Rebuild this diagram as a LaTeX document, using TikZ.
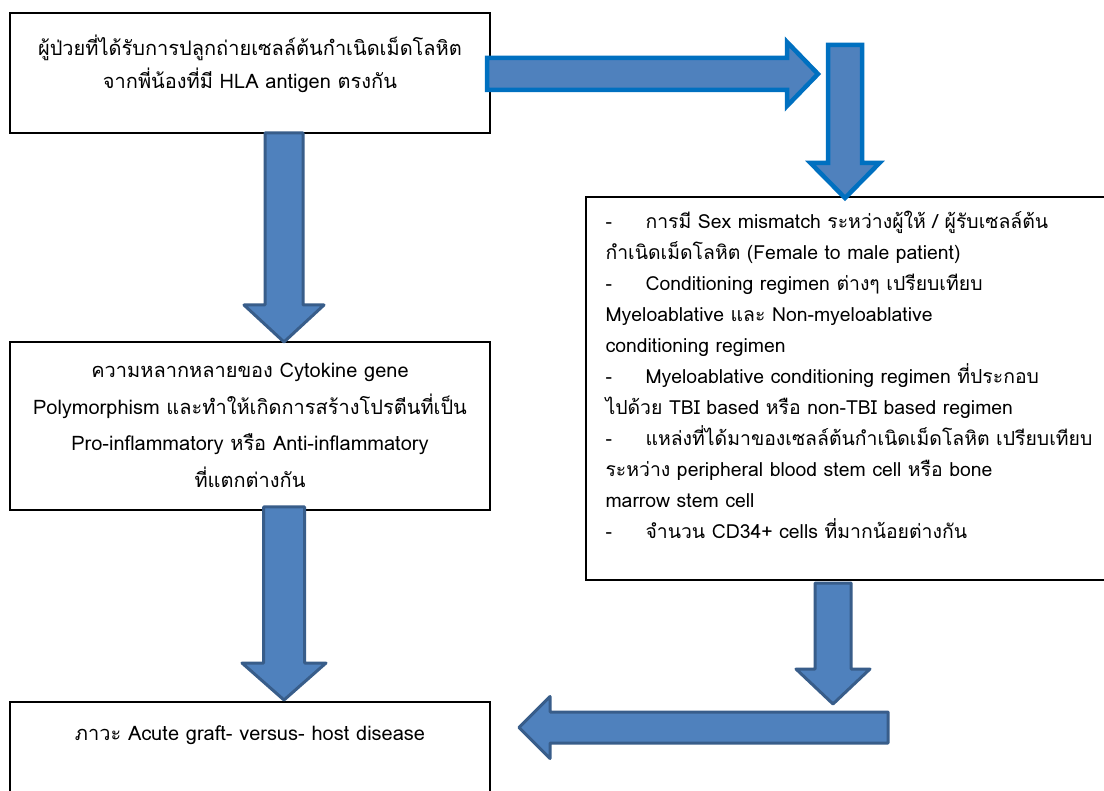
\documentclass[tikz,border=0pt]{standalone}
\usepackage{fontspec}
\setmainfont[Script=Thai]{Loma}
\usetikzlibrary{positioning,calc}

\definecolor{arrowfill}{HTML}{4F81BD}
\definecolor{arrowedge}{HTML}{385D8A}
\definecolor{arrowbright}{HTML}{0070C0}

% block arrow: style, from, to, shaft half width, head half width, head length
\newcommand{\fatarrow}[6]{%
  \coordinate (h) at ($(#3)!#6!(#2)$);
  \draw[#1] ($(#2)!#4!90:(#3)$) -- ($(h)!#4!90:(#3)$) -- ($(h)!#5!90:(#3)$) -- (#3)
    -- ($(h)!#5!-90:(#3)$) -- ($(h)!#4!-90:(#3)$) -- ($(#2)!#4!-90:(#3)$) -- cycle;}
\newcommand{\dashtab}{\makebox[40pt][l]{-}}

\begin{document}
\begin{tikzpicture}[x=1pt, y=-1pt,
    box/.style={draw, line width=1.3pt, minimum width=480pt, inner sep=0pt},
    txt/.style={inner sep=0pt, font=\fontsize{20}{33}\selectfont},
    darrow/.style={fill=arrowfill, draw=arrowedge, line width=3pt, line join=round},
    barrow/.style={fill=arrowfill, draw=arrowbright, line width=4.5pt}]
	\path[use as bounding box, fill=white] (0,0) rectangle (1104,791);

	\node [box, minimum height=120pt] (hsct) at (250,73) {};
	\node [box, minimum height=168pt] (cytokine) at (250,426) {};
	\node [box, minimum width=524pt, minimum height=383pt] (risk) at (848,388.5) {};
	\node [box, minimum height=98pt] (agvhd) at (250,751) {};

	\node [txt, align=center, below=22pt of hsct.north] (hsct text)
		{ผู้ป่วยที่ได้รับการปลูกถ่ายเซลล์ต้นกำเนิดเม็ดโลหิต\\จากพี่น้องที่มี HLA antigen ตรงกัน};
	\node [txt, align=center, below=22pt of cytokine.north, font=\fontsize{20}{36.5}\selectfont] (cytokine text)
		{ความหลากหลายของ Cytokine gene\\Polymorphism และทำให้เกิดการสร้างโปรตีนที่เป็น\\Pro-inflammatory หรือ Anti-inflammatory\\ที่แตกต่างกัน};
	\node [txt, align=left, anchor=north west, font=\fontsize{19.4}{31}\selectfont] (risk text)
		at ($(risk.north west)+(20,15)$)
		{\dashtab การมี Sex mismatch ระหว่างผู้ให้ / ผู้รับเซลล์ต้น\\
		 กำเนิดเม็ดโลหิต (Female to male patient)\\
		 \dashtab Conditioning regimen ต่างๆ เปรียบเทียบ\\
		 Myeloablative และ Non-myeloablative\\
		 conditioning regimen\\
		 \dashtab Myeloablative conditioning regimen ที่ประกอบ\\
		 ไปด้วย TBI based หรือ non-TBI based regimen\\
		 \dashtab แหล่งที่ได้มาของเซลล์ต้นกำเนิดเม็ดโลหิต เปรียบเทียบ\\
		 ระหว่าง peripheral blood stem cell หรือ bone\\
		 marrow stem cell\\
		 \dashtab จำนวน CD34+ cells ที่มากน้อยต่างกัน};
	\node [txt, below=24pt of agvhd.north] (agvhd text) {ภาวะ Acute graft- versus- host disease};

	\coordinate (a1s) at (284,133);   \coordinate (a1e) at (284,342);
	\coordinate (a2s) at (284,507);   \coordinate (a2e) at (284,700);
	\coordinate (a3s) at (487,74);    \coordinate (a3e) at (818,74);
	\coordinate (a4s) at (845,45);    \coordinate (a4e) at (845,198);
	\coordinate (a5s) at (833,583);   \coordinate (a5e) at (833,704);
	\coordinate (a6s) at (888,727.5); \coordinate (a6e) at (519,727.5);

	\fatarrow{darrow}{a1s}{a1e}{19pt}{40pt}{37pt}
	\fatarrow{darrow}{a2s}{a2e}{20.5pt}{42pt}{37pt}
	\fatarrow{barrow}{a3s}{a3e}{16pt}{32pt}{31pt}
	\fatarrow{barrow}{a4s}{a4e}{17pt}{34.5pt}{35pt}
	\fatarrow{darrow}{a5s}{a5e}{18pt}{37pt}{35pt}
	\fatarrow{darrow}{a6s}{a6e}{15.5pt}{31pt}{31pt}
\end{tikzpicture}
\end{document}
